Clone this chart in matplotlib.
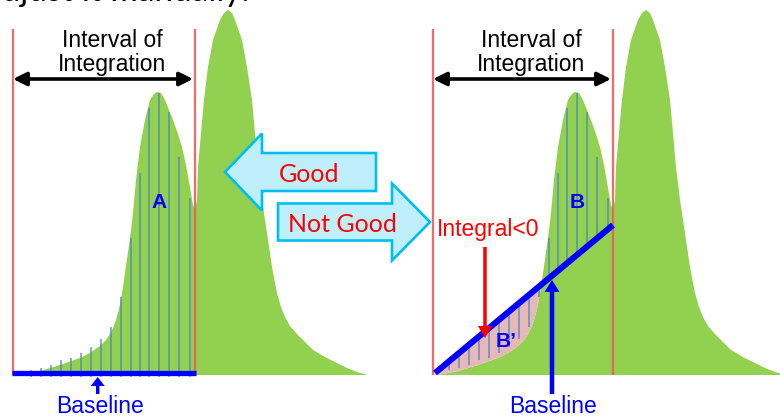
import numpy as np
import matplotlib.pyplot as plt
from matplotlib.patches import Polygon, FancyArrow

# peak outline (left panel, pixel units, y grows downward)
peak_x = [13, 25, 40, 60, 80, 90, 100, 106, 110, 113, 116, 119, 121, 123, 125, 127, 129, 131, 133, 136,
          140, 145, 150, 154, 157,
          161, 165, 169, 173, 178, 182, 186, 189, 193, 195,
          197, 198, 201, 204, 208, 213, 220, 224, 228,
          232, 235, 242, 247, 252, 255, 258, 262, 267, 272, 277, 281, 285, 290, 297, 305, 313, 325, 337,
          347, 357, 368]
peak_y = [375, 374, 371, 365, 358, 353, 346, 340, 334, 328, 320, 309, 299, 287, 273, 259, 245, 230, 213, 180,
          147, 120, 100, 94, 92,
          93, 100, 110, 120, 134, 147, 165, 182, 205, 210,
          200, 167, 133, 100, 67, 40, 20, 13, 10,
          13, 20, 40, 67, 100, 133, 167, 200, 233, 267, 293, 307, 317, 326, 334, 342, 350, 357, 363,
          368, 372, 375]

# integration slices (x position, top of slice)
slice_x = [31, 41, 51, 61, 71, 81, 91, 101, 111, 121, 131, 140, 149, 159, 169, 179, 190]
slice_top = [370, 368, 365, 360, 358, 353, 347, 339, 327, 297, 238, 173, 108, 93, 112, 157, 198]

floor_y = 375
shift = 418                      # right panel is the same trace moved over
left_lims = (13, 195)
right_lims = (433, 613)
tilt_base = ((435, 373), (613, 225))   # the bad baseline
cross = (541, 285)                     # where it crosses the trace

green = '#92D050'
pink = '#E6B9B8'
hatch = '#4A86C0'
redline = '#F25A5A'
blue = '#0000FF'
arrow_fill = '#BFEFFC'
arrow_edge = '#00BFF0'

plt.rcParams['font.family'] = ['Liberation Sans', 'DejaVu Sans']

fig = plt.figure(figsize=(7.8, 4.17), dpi=100)
ax = fig.add_axes([0, 0, 1, 1])
ax.set_xlim(0, 780)
ax.set_ylim(417, 0)
ax.axis('off')

px = np.array(peak_x, dtype=float)
py = np.array(peak_y, dtype=float)
sx = np.array(slice_x, dtype=float)
st = np.array(slice_top, dtype=float)

for off in (0, shift):
    ax.fill(np.r_[px + off, px[-1] + off, px[0] + off], np.r_[py, floor_y, floor_y],
            color=green, lw=0, zorder=1)

# pink area under the tilted baseline
(x0, y0), (x1, y1) = tilt_base
slope = (y1 - y0) / (x1 - x0)
keep = (px + shift >= x0) & (px + shift <= cross[0])
pink_pts = list(zip(px[keep] + shift, py[keep])) + [cross, (x0, y0)]
ax.add_patch(Polygon(pink_pts, closed=True, color=pink, lw=0, zorder=2))

# slices
ax.vlines(sx, st, floor_y + 2, color=hatch, lw=1.1, alpha=0.85, zorder=3)
rx = sx + shift
ax.vlines(rx, y0 + slope * (rx - x0), st, color=hatch, lw=1.1, alpha=0.85, zorder=3)

# interval limits
for a, b in (left_lims, right_lims):
    ax.vlines([a, b], 29, floor_y, color=redline, lw=1.6, alpha=0.9, zorder=4)
    ax.annotate('', xy=(a, 79), xytext=(b - 2, 79),
                arrowprops=dict(arrowstyle='<|-|>', color='black', lw=2.6,
                                mutation_scale=20, shrinkA=0, shrinkB=0), zorder=6)
    ax.text((a + b) / 2 + 8, 46.5, 'Interval of', ha='center', va='baseline', fontsize=16.5)
    ax.text((a + b) / 2 + 8, 70.5, 'Integration', ha='center', va='baseline', fontsize=16.5)

# baselines
ax.plot([12, 196], [372.5, 372.5], color=blue, lw=3.8, solid_capstyle='butt', zorder=5)
ax.plot([x0, x1], [y0, y1], color=blue, lw=4.4, solid_capstyle='butt', zorder=5)

ax.add_patch(FancyArrow(97.7, 394, 0, -17, width=3.5, head_width=14, head_length=9,
                        length_includes_head=True, color=blue, lw=0, zorder=6))
ax.add_patch(FancyArrow(552, 394, 0, -114, width=4.5, head_width=15, head_length=12,
                        length_includes_head=True, color=blue, lw=0, zorder=6))
ax.add_patch(FancyArrow(485, 247, 0, 91, width=3.5, head_width=14, head_length=12,
                        length_includes_head=True, color='red', lw=0, zorder=6))

ax.text(100.5, 413, 'Baseline', ha='center', va='baseline', fontsize=16.5, color=blue)
ax.text(553, 413, 'Baseline', ha='center', va='baseline', fontsize=16.5, color=blue)
ax.text(158.7, 208, 'A', ha='center', va='baseline', fontsize=15, weight='bold', color=blue)
ax.text(577.5, 208, 'B', ha='center', va='baseline', fontsize=15, weight='bold', color=blue)
ax.text(506, 347, 'B\u2019', ha='center', va='baseline', fontsize=15, weight='bold', color=blue, zorder=7)
ax.text(437, 236, 'Integral<0', ha='left', va='baseline', fontsize=16.5, color='red')

# good / not good block arrows
ax.add_patch(FancyArrow(376, 172, -151, 0, width=38, head_width=77, head_length=37,
                        length_includes_head=True, fc=arrow_fill, ec=arrow_edge, lw=1.9, zorder=6))
ax.add_patch(FancyArrow(278, 222, 152, 0, width=37, head_width=77, head_length=38,
                        length_includes_head=True, fc=arrow_fill, ec=arrow_edge, lw=1.9, zorder=6))
ax.text(309, 181.5, 'Good', ha='center', va='baseline', fontsize=18, color='red',
        family=['Lato', 'DejaVu Sans'], zorder=7)
ax.text(288, 231.5, 'Not Good', ha='left', va='baseline', fontsize=18, color='red',
        family=['Lato', 'DejaVu Sans'], zorder=7)

# caption cut at the top of the slide
ax.text(249, 1, 'adjust it manually.', ha='right', va='baseline', fontsize=24,
        family=['Lato', 'DejaVu Sans'], color='black')

fig.savefig('out.png', dpi=100)
